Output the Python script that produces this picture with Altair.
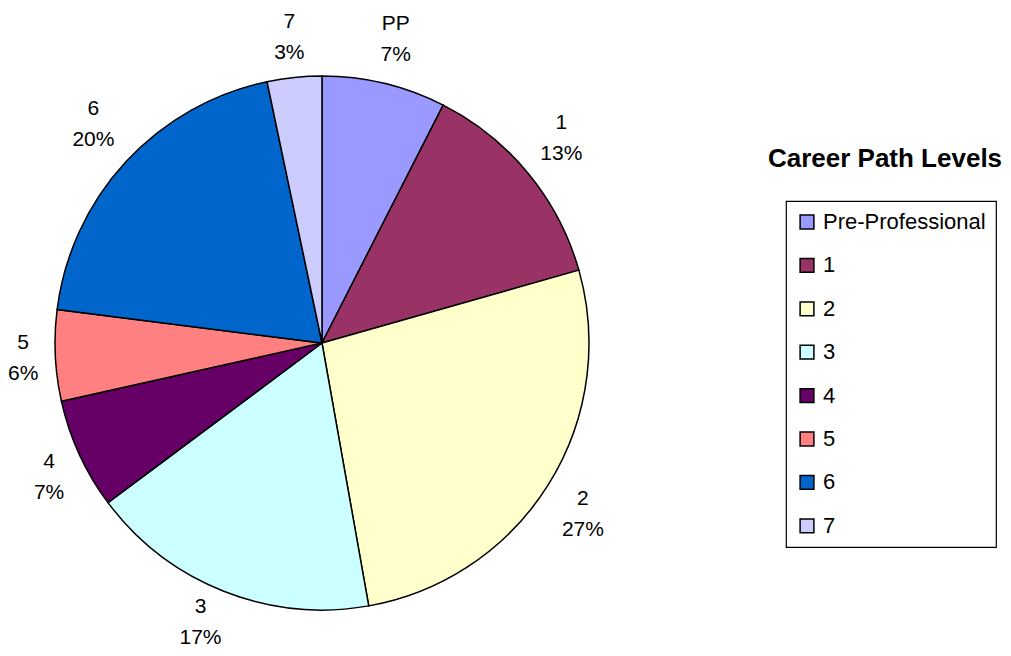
import altair as alt
import pandas as pd

levels = ["Pre-Professional", "1", "2", "3", "4", "5", "6", "7"]
short_labels = ["PP", "1", "2", "3", "4", "5", "6", "7"]
shares = [7.5, 13.1, 26.6, 17.6, 6.7, 5.5, 19.7, 3.3]
pct_labels = ["7%", "13%", "27%", "17%", "7%", "6%", "20%", "3%"]
colors = ["#9999FF", "#993366", "#FFFFCC", "#CCFFFF", "#660066", "#FF8080", "#0066CC", "#CCCCFF"]

df = pd.DataFrame({
    "level": levels,
    "idx": list(range(len(levels))),
    "share": shares,
    "pct": pct_labels,
    "label": [f"{s}\n{p}" for s, p in zip(short_labels, pct_labels)],
})

W, H = 995, 640
CX, CY = 314, 335
R_PIE = 267
R_LAB = 288

color = alt.Color(
    "level:N",
    scale=alt.Scale(domain=levels, range=colors),
    sort=levels,
    legend=alt.Legend(
        title=None,
        orient="none",
        legendX=778,
        legendY=193,
        symbolType="square",
        symbolSize=190,
        symbolStrokeColor="black",
        symbolStrokeWidth=1.5,
        labelFont="Liberation Sans",
        labelFontSize=22,
        labelColor="black",
        labelOffset=5,
        rowPadding=21.4,
        padding=10,
        strokeColor="black",
        fillColor="white",
        labelLimit=300,
        symbolOffset=0,
    ),
)

pie = alt.Chart(df).mark_arc(stroke="black", strokeWidth=1.5).encode(
    theta=alt.Theta("share:Q", stack=True),
    order=alt.Order("idx:Q", sort="ascending"),
    color=color,
    x=alt.value(CX),
    y=alt.value(CY),
    radius=alt.value(R_PIE),
)

# label boxes placed just outside the pie, pushed outward by half their size
labels = (
    alt.Chart(df)
    .transform_joinaggregate(total="sum(share)")
    .transform_window(cum="sum(share)", sort=[alt.SortField("idx")], frame=[None, 0])
    .transform_calculate(
        mid="2*PI*(datum.cum - datum.share/2)/datum.total",
        ux="sin(datum.mid)",
        uy="-cos(datum.mid)",
        hw="5.6*length(datum.pct)",
    )
    .transform_calculate(
        lx=f"{CX} + {R_LAB}*datum.ux + datum.hw*clamp(2.5*datum.ux, -1, 1)",
        ly=f"clamp({CY} + {R_LAB}*datum.uy + 23*clamp(1.5*datum.uy, -1, 1), 29, {H} - 26)",
    )
    .mark_text(
        font="Liberation Sans",
        fontSize=21,
        lineBreak="\n",
        lineHeight=31,
        color="black",
        align="center",
        baseline="middle",
        dy=-15.5,
    )
    .encode(
        text="label:N",
        x=alt.X("lx:Q", scale=None, axis=None),
        y=alt.Y("ly:Q", scale=None, axis=None),
    )
)

title_df = pd.DataFrame({"t": ["Career Path Levels"]})
title = alt.Chart(title_df).mark_text(
    font="Liberation Sans",
    fontSize=26,
    fontWeight="bold",
    color="black",
    align="center",
    baseline="middle",
).encode(text="t:N", x=alt.value(877), y=alt.value(151))

chart = alt.layer(pie, labels, title).properties(
    width=W,
    height=H,
    autosize=alt.AutoSizeParams(type="none"),
    padding=0,
    background="white",
).configure_view(stroke=None).configure_legend(strokeWidth=1.2)

chart.save("out.html", embed_options={"renderer": "svg", "actions": False})
